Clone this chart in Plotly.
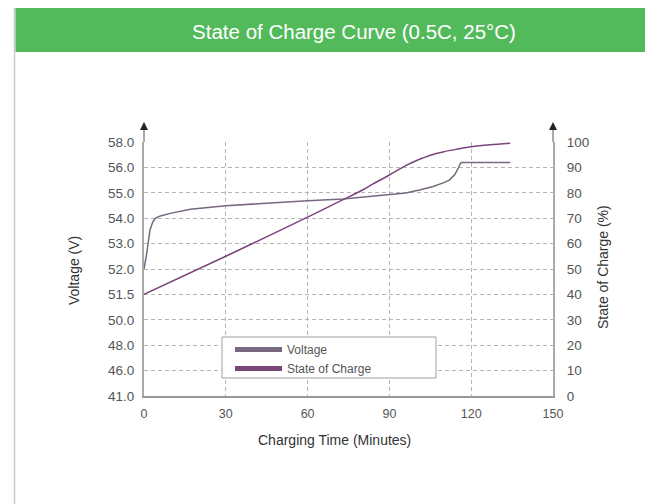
import numpy as np
import plotly.graph_objects as go

# ---------------- data ----------------
time_ticks = [0, 30, 60, 90, 120, 150]
voltage_tick_labels = ["41.0", "46.0", "48.0", "50.0", "51.5", "52.0",
                       "53.0", "54.0", "55.0", "56.0", "58.0"]
soc_ticks = [0, 10, 20, 30, 40, 50, 60, 70, 80, 90, 100]

volt_time = [0, 1, 2.2, 3.2, 4.1, 6, 10, 17, 30, 45, 60, 73, 84, 90, 96,
             101, 106, 110, 112, 114, 115, 115.5, 116, 116.5, 134.3]
volt_value = [52.0, 52.62, 53.54, 53.85, 53.99, 54.09, 54.2, 54.35, 54.49,
              54.6, 54.69, 54.76, 54.86, 54.91, 54.99, 55.11, 55.25, 55.4,
              55.5, 55.72, 55.9, 56.05, 56.3, 56.38, 56.38]

soc_time = [0, 30, 60, 73, 80, 84, 90, 96, 100, 105, 110, 115, 120, 127, 134.3]
soc_value = [40, 55, 70.4, 77.3, 81.0, 83.5, 87, 90.7, 92.7, 94.8, 96.2,
             97.2, 98.1, 98.9, 99.5]

# ---------------- layout geometry ----------------
OFF = 8                                   # page body margin
W_FIG, H_FIG = 653 - OFF, 504 - OFF
L, R, T, B = 144 - OFF, 553 - OFF, 142 - OFF, 396 - OFF   # plot box (figure px)
PW, PH = R - L, B - T


def px_x(px):            # page pixel -> paper x
    return (px - OFF - L) / PW


def px_y(py):            # page pixel -> paper y
    return (B - (py - OFF)) / PH


# left axis is a label scale: equally spaced labels of unequal voltages
label_volts = [float(v) for v in voltage_tick_labels]
label_pos = soc_ticks
volt_pos = np.interp(volt_value, label_volts, label_pos)

FONT = "Liberation Sans"
TXT = "#555555"
TTL = "#333333"
AX = "#a9a9a9"
GRID = "#b5b5b5"
C_VOLT = "#77687f"
C_SOC = "#7a4579"

fig = go.Figure()

fig.add_trace(go.Scatter(x=volt_time, y=volt_pos, mode="lines",
                         line=dict(color=C_VOLT, width=1.5),
                         name="Voltage", showlegend=False, hoverinfo="skip"))
fig.add_trace(go.Scatter(x=soc_time, y=soc_value, mode="lines", yaxis="y2",
                         line=dict(color=C_SOC, width=1.5, shape="spline", smoothing=0.8),
                         name="State of Charge", showlegend=False, hoverinfo="skip"))
# legend entries (thicker swatches)
fig.add_trace(go.Scatter(x=[None], y=[None], mode="lines",
                         line=dict(color=C_VOLT, width=5), name="Voltage"))
fig.add_trace(go.Scatter(x=[None], y=[None], mode="lines", yaxis="y2",
                         line=dict(color=C_SOC, width=5), name="State of Charge"))

shapes = [
    # card border
    dict(type="rect", xref="paper", yref="paper",
         x0=px_x(14.5), x1=px_x(720), y0=px_y(700), y1=px_y(8.5),
         line=dict(color="#c9c9c9", width=1.5), fillcolor="white", layer="below"),
    # green header
    dict(type="rect", xref="paper", yref="paper",
         x0=px_x(15.5), x1=px_x(720), y0=px_y(52), y1=px_y(7),
         line=dict(width=0), fillcolor="#53ba5c", layer="below"),
    # axis arrow shafts
    dict(type="line", xref="paper", yref="paper",
         x0=0, x1=0, y0=1, y1=px_y(128), line=dict(color=AX, width=2)),
    dict(type="line", xref="paper", yref="paper",
         x0=1, x1=1, y0=1, y1=px_y(128), line=dict(color=AX, width=2)),
    # legend box
    dict(type="rect", xref="paper", yref="paper",
         x0=px_x(222), x1=px_x(436), y0=px_y(378), y1=px_y(337),
         line=dict(color="#a0a0a0", width=1), fillcolor="white", layer="above"),
]

annotations = [
    # arrowheads
    dict(xref="paper", yref="paper", x=0, y=px_y(122), ax=0, ay=7,
         showarrow=True, arrowhead=2, arrowsize=1.0, arrowwidth=1.6,
         arrowcolor="#222222", text=""),
    dict(xref="paper", yref="paper", x=1, y=px_y(122), ax=0, ay=7,
         showarrow=True, arrowhead=2, arrowsize=1.0, arrowwidth=1.6,
         arrowcolor="#222222", text=""),
    # axis titles
    dict(xref="paper", yref="paper", x=px_x(74), y=px_y(271), text="Voltage (V)",
         textangle=-90, showarrow=False, font=dict(family=FONT, size=14, color=TTL),
         xanchor="center", yanchor="middle"),
    dict(xref="paper", yref="paper", x=px_x(603), y=px_y(267), text="State of Charge (%)",
         textangle=-90, showarrow=False, font=dict(family=FONT, size=14, color=TTL),
         xanchor="center", yanchor="middle"),
    dict(xref="paper", yref="paper", x=px_x(334), y=px_y(440), text="Charging Time (Minutes)",
         showarrow=False, font=dict(family=FONT, size=14, color=TTL),
         xanchor="center", yanchor="middle"),
]

fig.update_layout(
    width=W_FIG, height=H_FIG, autosize=False,
    margin=dict(l=L, r=W_FIG - R, t=T, b=H_FIG - B, pad=0),
    paper_bgcolor="white", plot_bgcolor="rgba(0,0,0,0)",
    font=dict(family=FONT, size=12, color=TXT),
    title=dict(text="State of Charge Curve (0.5C, 25°C)", x=(354 - OFF) / W_FIG, xref="container",
               y=1 - (32 - OFF) / H_FIG, yref="container", xanchor="center", yanchor="middle",
               font=dict(family=FONT, size=20.5, color="white")),
    xaxis=dict(range=[0, 150], tickvals=time_ticks, showgrid=True, gridcolor=GRID,
               griddash="4px,3px", gridwidth=1, zeroline=False, showline=True,
               linecolor="#999999", linewidth=1.5, ticks="", ticklabelstandoff=5,
               tickfont=dict(size=12.5, color=TXT, family=FONT), fixedrange=True),
    yaxis=dict(range=[0, 100], tickvals=label_pos, ticktext=voltage_tick_labels,
               showgrid=True, gridcolor=GRID, griddash="4px,3px", gridwidth=1,
               zeroline=False, showline=True, linecolor=AX, linewidth=2, ticks="",
               ticklabelstandoff=5, tickfont=dict(size=13.5, color=TXT, family=FONT),
               fixedrange=True),
    yaxis2=dict(range=[0, 100], tickvals=soc_ticks, overlaying="y", side="right",
                showgrid=False, zeroline=False, showline=True, linecolor=AX, linewidth=2,
                ticks="", ticklabelstandoff=9, tickfont=dict(size=13.5, color=TXT, family=FONT),
                fixedrange=True),
    legend=dict(x=px_x(222 + 8), y=px_y(327 + 8), xanchor="left", yanchor="top",
                bgcolor="rgba(0,0,0,0)", borderwidth=0, itemwidth=47,
                font=dict(family=FONT, size=12, color=TXT), tracegroupgap=0),
    shapes=shapes, annotations=annotations,
)

fig.write_html("out.html")
